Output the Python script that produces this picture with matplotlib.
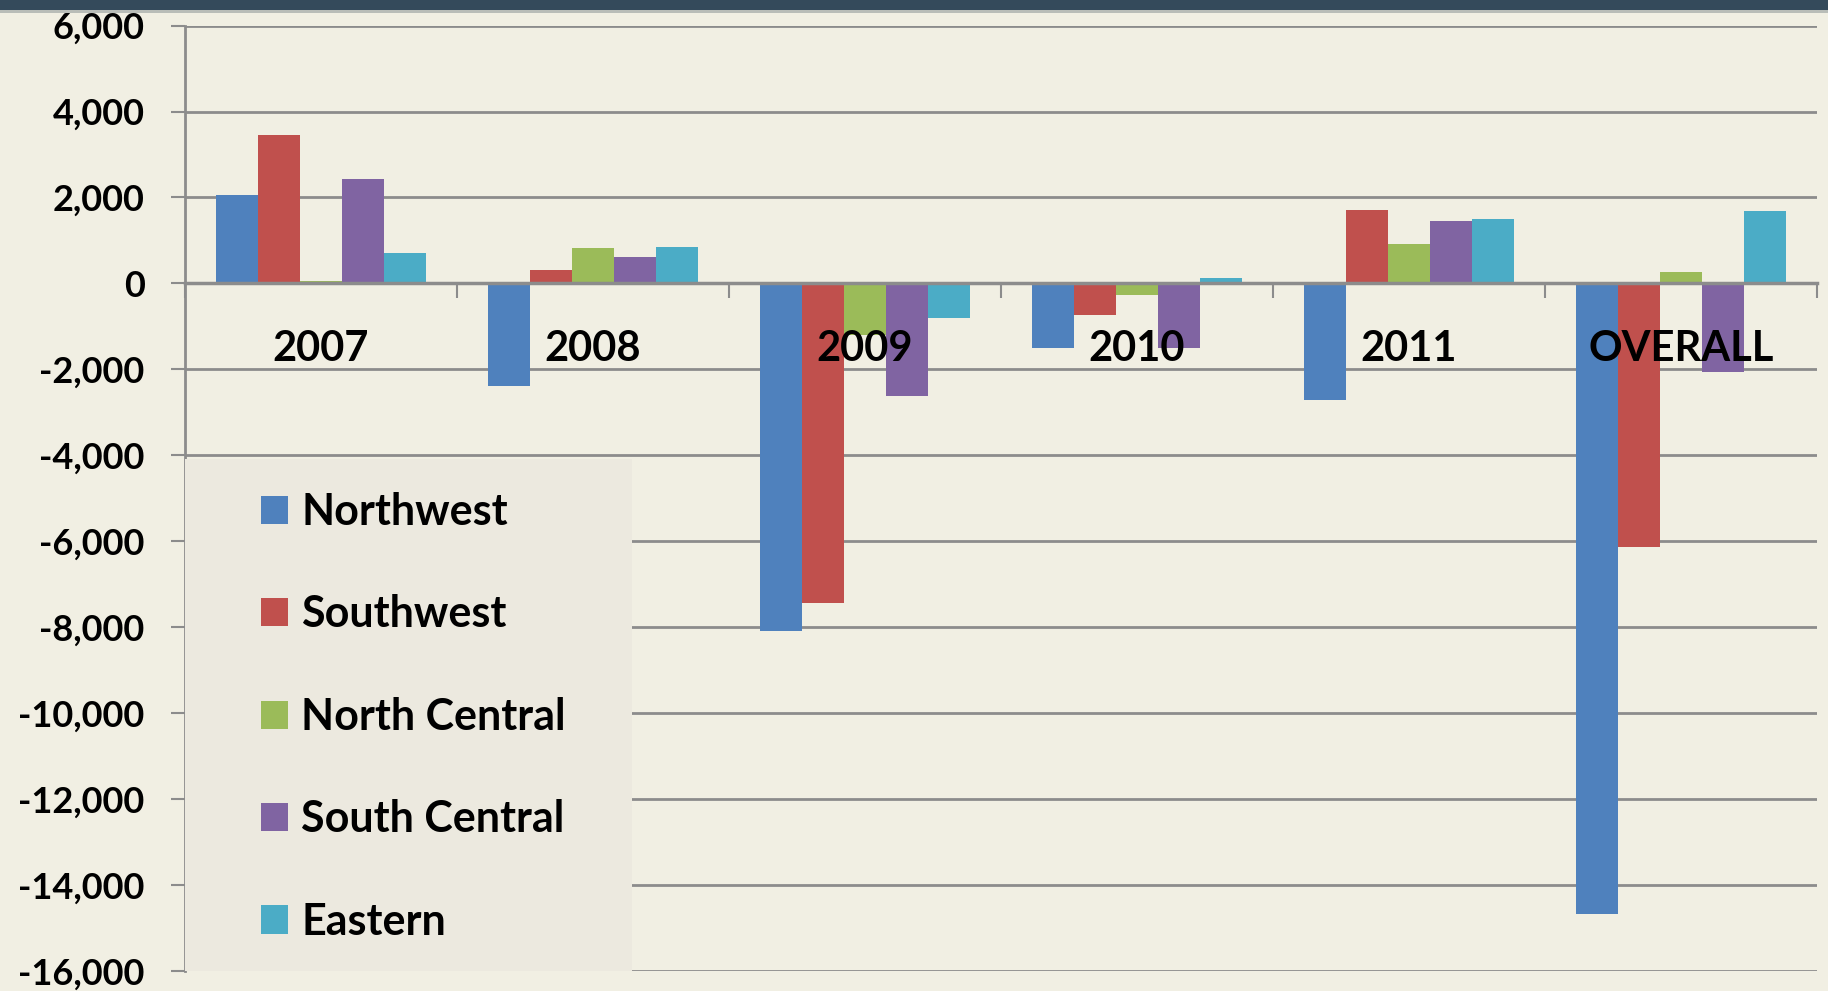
import matplotlib
matplotlib.use("Agg")
import matplotlib.pyplot as plt
import numpy as np
from matplotlib.patches import Rectangle

# ---- data ----
categories = ["2007", "2008", "2009", "2010", "2011", "OVERALL"]
series_names = ["Northwest", "Southwest", "North Central", "South Central", "Eastern"]
northwest = [2050, -2380, -8090, -1510, -2710, -14680]
southwest = [3450, 320, -7440, -740, 1710, -6130]
north_central = [60, 820, -1200, -265, 920, 265]
south_central = [2420, 605, -2620, -1510, 1450, -2060]
eastern = [715, 855, -810, 115, 1500, 1685]
yticks = list(range(-16000, 6001, 2000))

colors = ["#4F81BD", "#C0504D", "#9BBB59", "#8064A2", "#4BACC6"]
BG = "#F1EFE3"
LEG_BG = "#ECE9DF"
GRID = "#8C8C8C"
FONT = ["Lato", "DejaVu Sans"]
W = "bold"

plt.rcParams["font.family"] = FONT

fig = plt.figure(figsize=(18.28, 9.91), dpi=100)
fig.patch.set_facecolor(BG)
ax = fig.add_axes([185 / 1828, 1 - 971 / 991, (1817 - 185) / 1828, (971 - 25.6) / 991])
ax.set_facecolor(BG)

# top dark band
fig.patches.append(Rectangle((0, 1 - 10 / 991), 1, 10 / 991, transform=fig.transFigure,
                             facecolor="#344A5B", edgecolor="none", zorder=10))
fig.patches.append(Rectangle((0, 1 - 13 / 991), 1, 3 / 991, transform=fig.transFigure,
                             facecolor="#B9BDB8", edgecolor="none", zorder=9))

data = [northwest, southwest, north_central, south_central, eastern]
n = len(series_names)
x = np.arange(len(categories))
gap = 1.47
bw = 1.0 / (n + gap)
for i, (vals, c, name) in enumerate(zip(data, colors, series_names)):
    offs = (i - (n - 1) / 2) * bw
    ax.bar(x + offs, vals, width=bw, color=c, edgecolor="none", label=name, zorder=2)

ax.set_xlim(-0.5, len(categories) - 0.5)
ax.set_ylim(-16000, 6000)
ax.set_yticks(yticks)
ax.set_yticklabels([f"{v:,}" for v in yticks], fontsize=26, fontweight=W)
ax.tick_params(axis="y", length=10, width=1.5, color=GRID, pad=19)
ax.yaxis.grid(True, color=GRID, linewidth=2, zorder=0)
ax.set_axisbelow(True)

# category axis at zero
ax.spines["bottom"].set_position(("data", 0))
ax.spines["bottom"].set_color(GRID)
ax.spines["bottom"].set_linewidth(2.5)
ax.spines["bottom"].set_zorder(3)
ax.spines["left"].set_color(GRID)
ax.spines["left"].set_linewidth(2)
ax.spines["top"].set_visible(False)
ax.spines["right"].set_visible(False)
ax.set_xticks(np.arange(len(categories) + 1) - 0.5)
ax.set_xticklabels([])
ax.tick_params(axis="x", direction="out", length=11, width=1.5, color=GRID)

for xi, cat in zip(x, categories):
    ax.text(xi, -1520, cat, ha="center", va="center", fontsize=30,
            fontweight=W, color="black", zorder=6)

# legend box (covers the gridlines in its area)
lx0, lx1 = 185, 632
ly0, ly1 = 459, 971
ax.add_patch(Rectangle((lx0 / 1828, 1 - ly1 / 991), (lx1 - lx0) / 1828, (ly1 - ly0) / 991,
                       transform=fig.transFigure, facecolor=LEG_BG, edgecolor="none",
                       zorder=4, clip_on=False))

handles, labels = ax.get_legend_handles_labels()
leg = ax.legend(handles, labels, loc="upper left",
                bbox_to_anchor=(261 / 1828, 1 - 492 / 991), bbox_transform=fig.transFigure,
                frameon=False, fontsize=31, handlelength=0.63, handleheight=0.63,
                handletextpad=0.3, labelspacing=1.45, borderpad=0, borderaxespad=0)
for t in leg.get_texts():
    t.set_fontweight(W)
leg.set_zorder(7)

fig.savefig("out.png", dpi=100, facecolor=BG)
